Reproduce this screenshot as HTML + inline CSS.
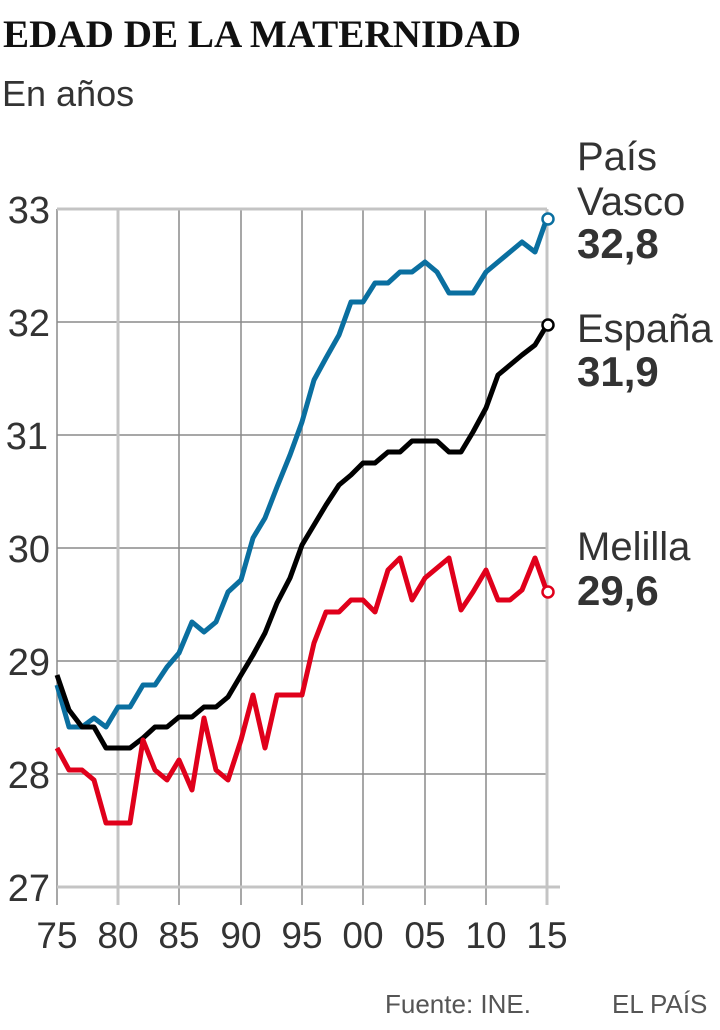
<!DOCTYPE html>
<html><head><meta charset="utf-8"><style>
body{margin:0;background:#fff;width:720px;height:1030px;overflow:hidden}
svg{display:block}
</style></head><body>
<svg width="720" height="1030" xmlns="http://www.w3.org/2000/svg" font-family="Liberation Sans, sans-serif">
<text x="3" y="47" font-family="Liberation Serif, serif" font-weight="bold" font-size="39" fill="#111" textLength="518" lengthAdjust="spacingAndGlyphs">EDAD DE LA MATERNIDAD</text>
<text x="2" y="106" font-size="36" fill="#333">En años</text>
<g stroke="#8a8a8a" stroke-width="1.5">
<line x1="57" y1="322" x2="547" y2="322"/><line x1="57" y1="435" x2="547" y2="435"/>
<line x1="57" y1="548" x2="547" y2="548"/><line x1="57" y1="661" x2="547" y2="661"/>
<line x1="57" y1="774" x2="547" y2="774"/>
<line x1="179" y1="209" x2="179" y2="905"/><line x1="241" y1="209" x2="241" y2="905"/>
<line x1="302" y1="209" x2="302" y2="905"/><line x1="363" y1="209" x2="363" y2="905"/>
<line x1="425" y1="209" x2="425" y2="905"/><line x1="486" y1="209" x2="486" y2="905"/>
<line x1="57" y1="209" x2="57" y2="905"/>
</g>
<g stroke="#c4c4c4" stroke-width="3">
<line x1="57" y1="209" x2="547" y2="209"/><line x1="57" y1="887" x2="560" y2="887"/>
<line x1="118" y1="209" x2="118" y2="905"/><line x1="547" y1="209" x2="547" y2="905"/>
</g>
<g font-size="38" fill="#333" text-anchor="end">
<text x="50" y="223">33</text><text x="50" y="336">32</text><text x="48" y="449">31</text>
<text x="50" y="562">30</text><text x="50" y="675">29</text><text x="50" y="788">28</text><text x="50" y="901">27</text>
</g>
<g font-size="37" fill="#333" text-anchor="middle">
<text x="57" y="948">75</text><text x="118" y="948">80</text><text x="179" y="948">85</text><text x="241" y="948">90</text>
<text x="302" y="948">95</text><text x="363" y="948">00</text><text x="425" y="948">05</text><text x="486" y="948">10</text><text x="547" y="948">15</text>
</g>
<g fill="none" stroke-width="5" stroke-linejoin="round">
<polyline stroke="#0a6fa0" points="57,685 69,727 82,727 94,718 106,727 118,707 130,707 143,685 155,685 167,667 179,653 192,622 204,632 216,622 228,592 241,580 253,538 265,518 277,487 290,455 302,422 314,380 326,358 339,335 351,302 363,302 375,283 388,283 400,272 412,272 425,262 437,272 449,293 461,293 473,293 486,272 498,262 510,252 522,242 535,252 547,218"/>
<polyline stroke="#000" points="57,675 69,710 82,727 94,727 106,748 118,748 130,748 143,738 155,727 167,727 179,717 192,717 204,707 216,707 228,697 241,675 253,655 265,633 277,603 290,578 302,545 314,525 326,505 339,485 351,475 363,463 375,463 388,452 400,452 412,441 425,441 437,441 449,452 461,452 473,432 486,408 498,375 510,365 522,355 535,345 547,325"/>
<polyline stroke="#e0001b" points="57,748 69,770 82,770 94,780 106,823 118,823 130,823 143,740 155,770 167,780 179,760 192,790 204,718 216,770 228,780 241,740 253,695 265,748 277,695 290,695 302,695 314,643 326,612 339,612 351,600 363,600 375,612 388,570 400,558 412,600 425,578 437,568 449,558 461,610 473,592 486,570 498,600 510,600 522,590 535,558 547,592"/>
</g>
<g fill="#fff" stroke-width="2.5">
<circle cx="548" cy="219" r="5.5" stroke="#0a6fa0"/>
<circle cx="548" cy="325" r="5.5" stroke="#000"/>
<circle cx="548" cy="592" r="5.5" stroke="#e0001b"/>
</g>
<g font-size="40" fill="#333">
<text x="577" y="170">País</text><text x="577" y="215">Vasco</text>
<text x="577" y="258" font-weight="bold" font-size="42">32,8</text>
<text x="577" y="342">España</text><text x="577" y="386" font-weight="bold" font-size="42">31,9</text>
<text x="577" y="560">Melilla</text><text x="577" y="605" font-weight="bold" font-size="42">29,6</text>
</g>
<text x="385" y="1013" font-size="26" fill="#555">Fuente: INE.</text>
<text x="612" y="1013" font-size="26" fill="#555">EL PAÍS</text>
</svg>
</body></html>
